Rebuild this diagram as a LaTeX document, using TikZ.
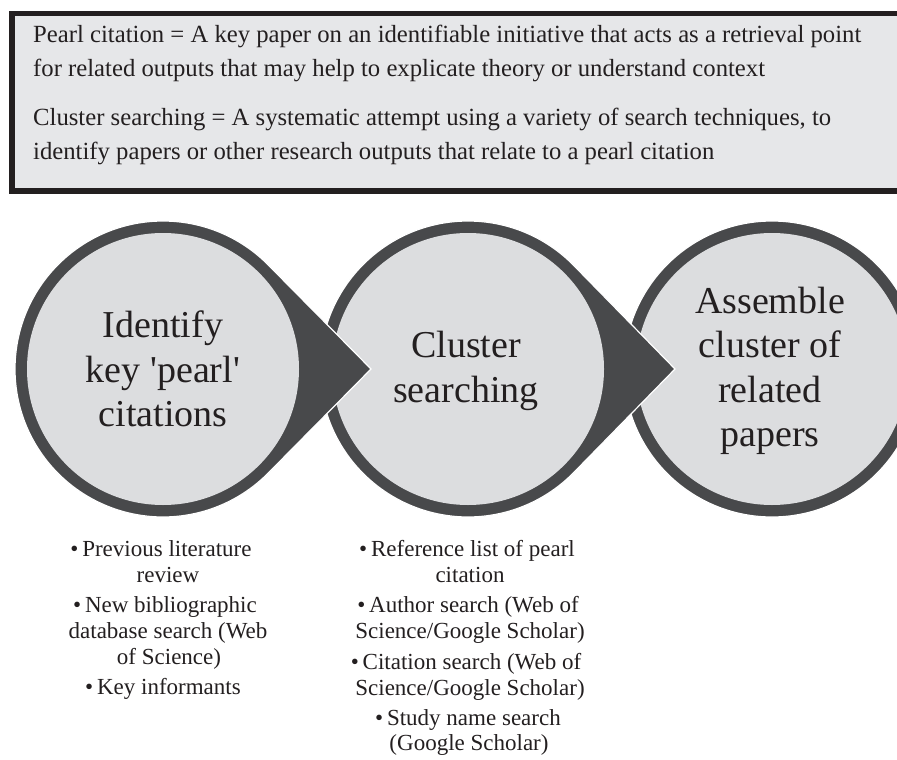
\documentclass[tikz,border=0pt]{standalone}
\usepackage{fontspec}
\setmainfont{Liberation Serif}
\usetikzlibrary{calc}
\definecolor{shapedark}{HTML}{48494B}
\definecolor{shapefill}{HTML}{DCDDDF}
\definecolor{boxfill}{HTML}{E6E7E9}
\definecolor{boxline}{HTML}{231F20}
\definecolor{inkc}{HTML}{231F20}
\begin{document}
\begin{tikzpicture}[x=1pt,y=1pt,
  boxtext/.style={anchor=base west, inner sep=0, font=\fontsize{24.7}{29}\selectfont, text=inkc},
  circtext/.style={align=center, inner sep=0, font=\fontsize{38}{44.5}\selectfont, text=inkc},
  itemtext/.style={anchor=base, inner sep=0, font=\fontsize{23}{26}\selectfont, text=inkc},
  tear/.style={fill=shapedark, draw=white, line width=1.2},
  disc/.style={fill=shapefill}]
\useasboundingbox (0,-760) rectangle (897,0);
\fill[white] (0,-760) rectangle (897,0);
% definition box
\draw[line width=5.5, draw=boxline, fill=boxfill] (12,-13.5) rectangle (915,-191);
\node[boxtext] (d1a) at (33,-43) {Pearl citation = A key paper on an identifiable initiative that acts as a retrieval point};
\node[boxtext] (d1b) at (33,-77) {for related outputs that may help to explicate theory or understand context};
\node[boxtext] (d2a) at (33,-125) {Cluster searching = A systematic attempt using a variety of search techniques, to};
\node[boxtext] (d2b) at (33,-159) {identify papers or other research outputs that relate to a pearl citation};
% shape centres
\coordinate (c1) at (163,-369);
\coordinate (c2) at (468,-369);
\coordinate (c3) at (772,-369);
\coordinate (t1) at (371,-369);
\coordinate (t2) at (675,-369);
% shape 3
\draw[tear] (c3) circle[radius=148];
\fill[disc] (c3) circle[radius=136];
% shape 2
\draw[tear] (t2) -- ($(c2)+(44.36:148)$) arc[start angle=44.36, end angle=315.64, radius=148] -- cycle;
\fill[disc] (c2) circle[radius=136];
% shape 1
\draw[tear] (t1) -- ($(c1)+(44.36:148)$) arc[start angle=44.36, end angle=315.64, radius=148] -- cycle;
\fill[disc] (c1) circle[radius=136];
% circle labels
\node[circtext] (s1) at (163,-369) {Identify\\key \textquotesingle pearl\textquotesingle\\citations};
\node[circtext] (s2) at (466,-371) {Cluster\\searching};
\node[circtext] (s3) at (770,-371) {Assemble\\cluster of\\related\\papers};
% list 1
\node[itemtext] (a1) at (161,-556) {•\,Previous literature};
\node[itemtext] (a1b) at (168,-582) {review};
\node[itemtext] (a2) at (165,-612) {•\,New bibliographic};
\node[itemtext] (a2b) at (168,-638) {database search (Web};
\node[itemtext] (a2c) at (169,-664) {of Science)};
\node[itemtext] (a3) at (163,-694) {•\,Key informants};
% list 2
\node[itemtext] (b1) at (467,-556) {•\,Reference list of pearl};
\node[itemtext] (b1b) at (470,-582) {citation};
\node[itemtext] (b2) at (468,-612) {•\,Author search (Web of};
\node[itemtext] (b2b) at (470,-638) {Science/Google Scholar)};
\node[itemtext] (b3) at (466,-669) {•\,Citation search (Web of};
\node[itemtext] (b3b) at (470,-695) {Science/Google Scholar)};
\node[itemtext] (b4) at (468,-725) {•\,Study name search};
\node[itemtext] (b4b) at (469,-750) {(Google Scholar)};
\end{tikzpicture}
\end{document}
